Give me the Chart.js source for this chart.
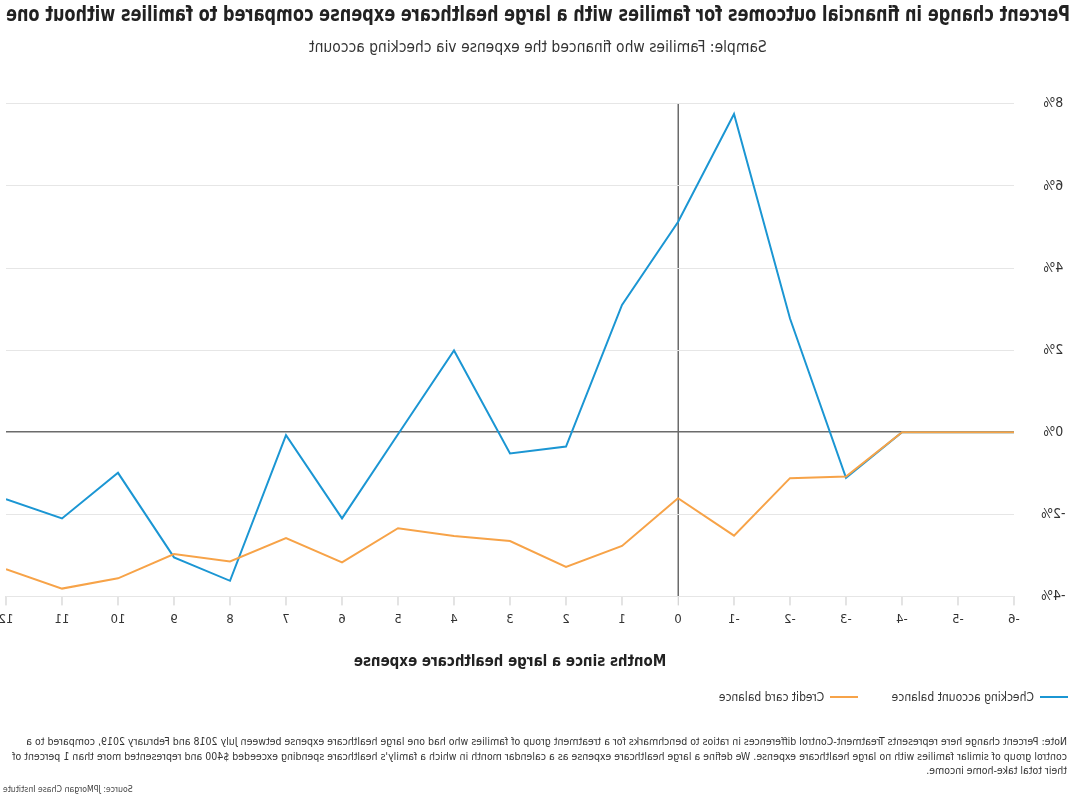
<!DOCTYPE html>
<html>
<head>
<meta charset="utf-8">
<script src="https://cdn.jsdelivr.net/npm/chart.js@4.4.1/dist/chart.umd.min.js"></script>
<style>
  html, body { margin: 0; padding: 0; background: #fff; }
  #page {
    position: relative; width: 1070px; height: 800px; overflow: hidden;
    transform: scaleX(-1);
    font-family: 'Liberation Sans Narrow', 'DejaVu Sans Condensed', sans-serif;
    color: #333;
  }
  #chart-box { position: absolute; left: 0; top: 0; width: 1070px; height: 671px; }
  #legend { position: absolute; left: 2px; top: 685px; font-size: 12px; line-height: 18px; white-space: nowrap; }
  #legend span.item { display: inline-flex; align-items: center; margin-right: 30px; }
  #legend span.swatch { display: inline-block; width: 28px; height: 2px; margin-right: 6px; }
  #note { position: absolute; left: 3px; top: 734px; font-size: 10.5px; line-height: 14.5px; white-space: nowrap; color: #333; }
  #source { position: absolute; right: 3px; top: 784px; font-size: 8.7px; color: #444; }
</style>
</head>
<body>
<div id="page">
  <div id="chart-box"><canvas id="chart" width="1070" height="671"></canvas></div>
  <div id="legend"></div>
  <div id="note">Note: Percent change here represents Treatment-Control differences in ratios to benchmarks for a treatment group of families who had one large healthcare expense between July 2018 and February 2019, compared to a<br>control group of similar families with no large healthcare expense. We define a large healthcare expense as a calendar month in which a family's healthcare spending exceeded $400 and represented more than 1 percent of<br>their total take-home income.</div>
  <div id="source">Source: JPMorgan Chase Institute</div>
</div>
<script>
const FONT = "'Liberation Sans Narrow', 'DejaVu Sans Condensed', sans-serif";

// months since the expense
const months = [-6, -5, -4, -3, -2, -1, 0, 1, 2, 3, 4, 5, 6, 7, 8, 9, 10, 11, 12];

// percent change, checking account balance
const checkingValues = [0, 0, 0, -1.11, 2.77, 7.75, 5.12, 3.10, -0.35, -0.52, 1.99, -0.05, -2.10, -0.07, -3.62, -3.05, -0.99, -2.10, -1.63];

// percent change, credit card balance
const creditValues = [0, 0, 0, -1.08, -1.12, -2.52, -1.61, -2.77, -3.28, -2.65, -2.53, -2.34, -3.17, -2.58, -3.15, -2.97, -3.56, -3.81, -3.34];

const yTicks = [-4, -2, 0, 2, 4, 6, 8];

const blue = '#1b96d3';
const orange = '#f7a348';

const toPoints = vals => months.map((m, i) => ({ x: m, y: vals[i] }));

const chart = new Chart(document.getElementById('chart'), {
  type: 'line',
  data: {
    datasets: [
      {
        label: 'Credit card balance',
        data: toPoints(creditValues),
        borderColor: orange,
        backgroundColor: orange,
        borderWidth: 2,
        pointRadius: 0,
        tension: 0
      },
      {
        label: 'Checking account balance',
        data: toPoints(checkingValues),
        borderColor: blue,
        backgroundColor: blue,
        borderWidth: 2,
        pointRadius: 0,
        tension: 0
      }
    ]
  },
  options: {
    responsive: false,
    animation: false,
    layout: { padding: { left: 0, right: 6, top: 0, bottom: 0 } },
    plugins: {
      title: {
        display: true,
        text: 'Percent change in financial outcomes for families with a large healthcare expense compared to families without one',
        color: '#222',
        font: { family: FONT, size: 21, weight: 'bold' },
        padding: { top: 3, bottom: 10 }
      },
      subtitle: {
        display: true,
        text: 'Sample: Families who financed the expense via checking account',
        color: '#333',
        font: { family: FONT, size: 15.5 },
        padding: { top: 0, bottom: 47 }
      },
      legend: { display: false },
      tooltip: { enabled: false }
    },
    scales: {
      x: {
        type: 'linear',
        min: -6,
        max: 12,
        border: { display: false },
        afterFit: s => { s.paddingRight = 6; s.paddingLeft = 0; },
        grid: {
          color: ctx => ctx.tick && ctx.tick.value === 0 ? '#6b6b6b' : 'rgba(0,0,0,0)',
          lineWidth: ctx => ctx.tick && ctx.tick.value === 0 ? 1.5 : 0,
          tickColor: '#c8c8c8',
          tickLength: 9,
          tickWidth: 1
        },
        ticks: {
          stepSize: 1,
          color: '#333',
          font: { family: FONT, size: 13 },
          padding: 6
        },
        title: {
          display: true,
          text: 'Months since a large healthcare expense',
          color: '#222',
          font: { family: FONT, size: 15, weight: 'bold' },
          padding: { top: 20, bottom: 0 }
        }
      },
      y: {
        min: -4,
        max: 8,
        border: { display: false },
        afterFit: scale => { scale.width = 56; },
        afterBuildTicks: scale => { scale.ticks = yTicks.map(v => ({ value: v })); },
        grid: {
          drawTicks: false,
          color: ctx => ctx.tick && ctx.tick.value === 0 ? '#6b6b6b' : '#e6e6e6',
          lineWidth: ctx => ctx.tick && ctx.tick.value === 0 ? 1.5 : 1
        },
        ticks: {
          color: '#333',
          font: { family: FONT, size: 14 },
          crossAlign: 'center',
          padding: 27,
          callback: v => v + '%'
        }
      }
    }
  }
});

// legend in the page, checking first as in the source chart
const legendEl = document.getElementById('legend');
legendEl.innerHTML = chart.data.datasets.slice().reverse().map(ds => `
  <span class="item"><span class="swatch" style="background:${ds.borderColor}"></span>${ds.label}</span>
`).join('');
</script>
</body>
</html>
